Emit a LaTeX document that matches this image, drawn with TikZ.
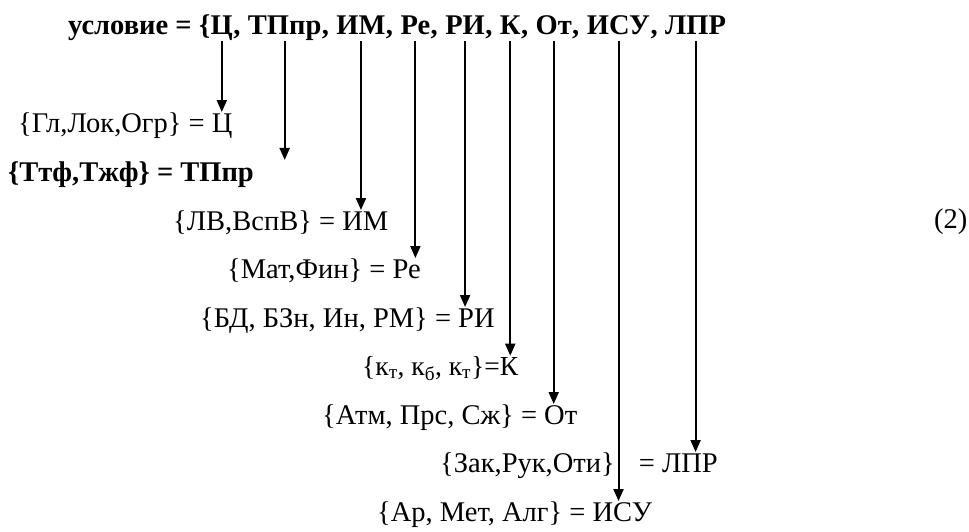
\documentclass[tikz,border=0pt]{standalone}
\usepackage{fontspec}
\setmainfont{Liberation Serif}
\usetikzlibrary{arrows.meta}

\tikzset{
  ttl/.style={anchor=base west, inner sep=0pt, text depth=6pt, font=\fontsize{28.5}{32}\selectfont\bfseries},
  lbl/.style={anchor=base west, inner sep=0pt, font=\fontsize{28.5}{32}\selectfont},
  arr/.style={-{Triangle[length=12pt, width=10pt]}, line width=2pt}
}

\begin{document}
\begin{tikzpicture}[x=1pt, y=-1pt]
    \useasboundingbox (0,0) rectangle (969,532);

    % Title row, one node per word
    \node[ttl] (t0) at (68,35) {условие =\kern.25em};
    \foreach \s/\n/\w [remember=\n as \p (initially t0)] in
      {\{/C/Ц, {,\kern.25em}/TP/ТПпр, {,\kern.25em}/IM/ИМ, {,\kern.25em}/Re/Ре,
       {,\kern.25em}/RI/РИ, {,\kern.25em}/K/К, {,\kern.25em}/Ot/От,
       {,\kern.25em}/ISU/ИСУ, {,\kern.25em}/LPR/ЛПР}{
      \node[ttl] (s\n) at (\p.base east) {\s};
      \node[ttl] (\n) at (s\n.base east) {\w};
    }

    % Decomposition lines
    \node[lbl] (gl) at (18,132) {\{Гл,Лок,Огр\} = Ц};
    \node[lbl, font=\fontsize{28.5}{32}\selectfont\bfseries] (tt) at (8,181) {\{Ттф,Тжф\} = ТПпр};
    \node[lbl] (lv) at (173,230) {\{ЛВ,ВспВ\} = ИМ};
    \node[lbl] (mf) at (227,278) {\{Мат,Фин\} = Ре};
    \node[lbl] (bd) at (200,327) {\{БД, БЗн, Ин, РМ\} = РИ};
    \node[lbl, font=\fontsize{27.5}{30}\selectfont] (kk) at (362,375)
      {\{к\textsubscript{т}, к\textsubscript{б}, к\textsubscript{т}\}=К};
    \node[lbl] (at) at (322,424) {\{Атм, Прс, Сж\} = От};
    \node[lbl] (zk) at (440,472) {\{Зак,Рук,Оти\}\hspace{24pt}= ЛПР};
    \node[lbl] (ar) at (377,521) {\{Ар, Мет, Алг\} = ИСУ};
    \node[lbl] (eq) at (934,228) {(2)};
    \coordinate (tpend) at (288,160);

    % Arrows down from the title
    \draw[arr] (C.south) -- (C.south |- gl.north);
    \draw[arr] (TP.south) -- (TP.south |- tpend);
    \draw[arr] (IM.south) -- (IM.south |- lv.north);
    \draw[arr] (Re.south) -- (Re.south |- mf.north);
    \draw[arr] (RI.south) -- (RI.south |- bd.north);
    \draw[arr] (K.south) -- (K.south |- kk.north);
    \draw[arr] (Ot.south) -- (Ot.south |- at.north);
    \draw[arr] (ISU.south) -- (ISU.south |- ar.north);
    \draw[arr] (LPR.south) -- (LPR.south |- zk.north);
\end{tikzpicture}
\end{document}
